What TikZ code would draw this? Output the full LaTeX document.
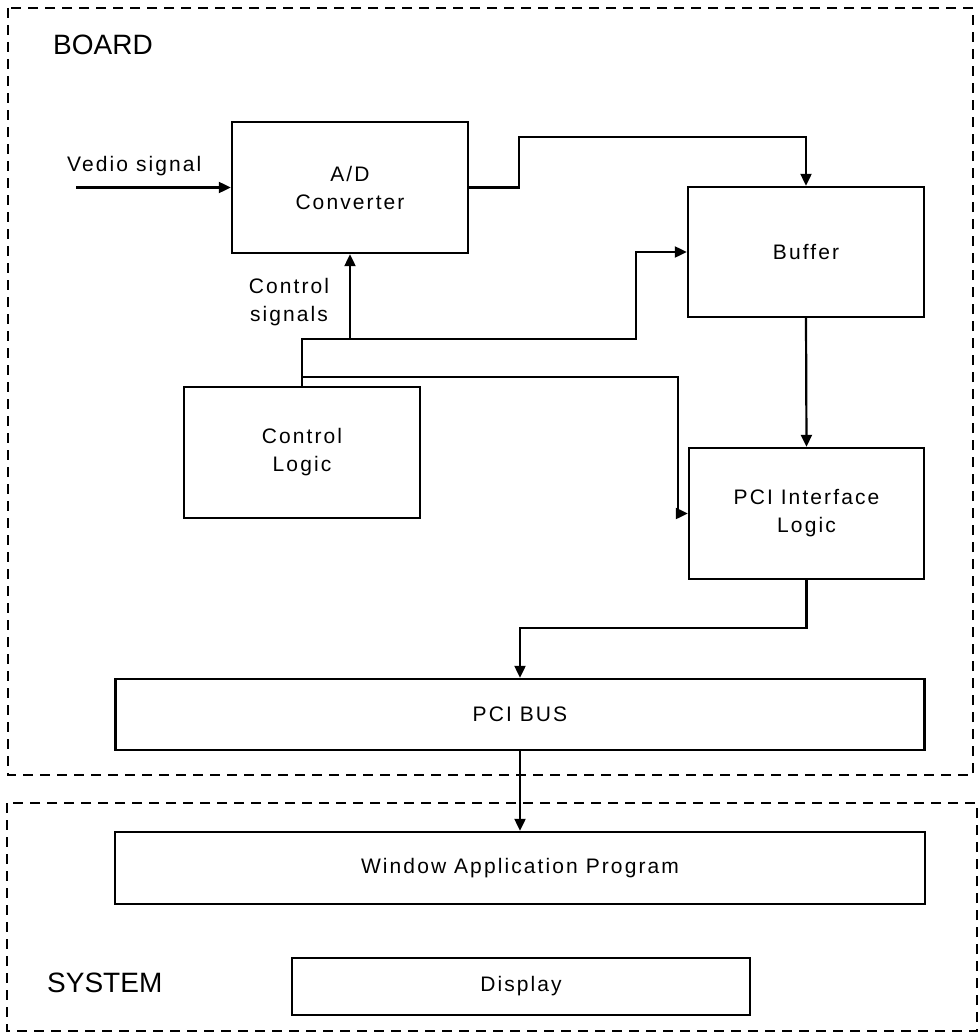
\documentclass[tikz,border=0pt]{standalone}
\usepackage{fontspec}
\setmainfont{Liberation Sans}
\newfontfamily\boxfont{Liberation Sans}[LetterSpace=10]
\newfontfamily\titlefont{Liberation Sans}
\usetikzlibrary{arrows.meta}
\begin{document}
\begin{tikzpicture}[x=1pt,y=-1pt,
  blk/.style={draw,line width=2.4pt,inner sep=0pt,align=center,
    font={\boxfont\fontsize{21}{28}\selectfont}},
  arr/.style={line width=2.2pt,-{Triangle[length=12pt,width=11pt]}},
  frame/.style={line width=1.5pt,dash pattern=on 10pt off 7pt},
  lbl/.style={inner sep=0pt,align=center,font={\boxfont\fontsize{21}{28}\selectfont}},
  ttl/.style={inner sep=0pt,anchor=west,font={\titlefont\fontsize{28}{32}\selectfont}}]
\useasboundingbox (0,0) rectangle (979,1033);

% dashed enclosures
\draw[frame] (8,8) rectangle (973,775);
\draw[frame] (7,803) rectangle (977,1031);
\node[ttl] (board) at (53,45) {BOARD};
\node[ttl] (system) at (47,983) {SYSTEM};

% blocks
\node[blk,minimum width=236pt,minimum height=131pt] (ad) at (350,187.5) {A/D\\Converter};
\node[blk,minimum width=236pt,minimum height=130pt] (buf) at (806,252) {Buffer};
\node[blk,minimum width=236pt,minimum height=131pt] (ctrl) at (302,452.5) {Control\\Logic};
\node[blk,minimum width=235pt,minimum height=131pt] (pif) at (806.5,513.5) {PCI Interface\\Logic};
\node[blk,minimum width=809pt,minimum height=71pt] (bus) at (520,714.5) {PCI BUS};
\node[blk,minimum width=810pt,minimum height=72pt] (win) at (520,868) {Window Application Program};
\node[blk,minimum width=458pt,minimum height=57pt] (disp) at (521,986.5) {Display};

% labels
\node[lbl,anchor=west] (vlbl) at (67,166) {Vedio signal};
\node[lbl] (clbl) at (289,302) {Control\\signals};

% routing points
\coordinate (vin) at (76,187.5);
\coordinate (ab1) at (519,137);
\coordinate (cj1) at (302,339);
\coordinate (cj2) at (636,339);
\coordinate (cj3) at (302,377);
\coordinate (cj4) at (678,513.5);
\coordinate (pb1) at (520,628);

% connectors
\draw[arr] (vin) -- (ad.west);
\draw[arr] (ad.east) -| (ab1) -| (buf.north);
\draw[arr] (ctrl.north) -- (cj1) -| (ad.south);
\draw[arr] (cj1) -- (cj2) |- (buf.west);
\draw[arr] (cj3) -| (cj4) -- (pif.west);
\draw[arr] (buf.south) -- (pif.north);
\draw[arr] (pif.south) |- (pb1) -- (pb1 |- bus.north);
\draw[arr] (bus.south) -- (win.north);
\end{tikzpicture}
\end{document}
